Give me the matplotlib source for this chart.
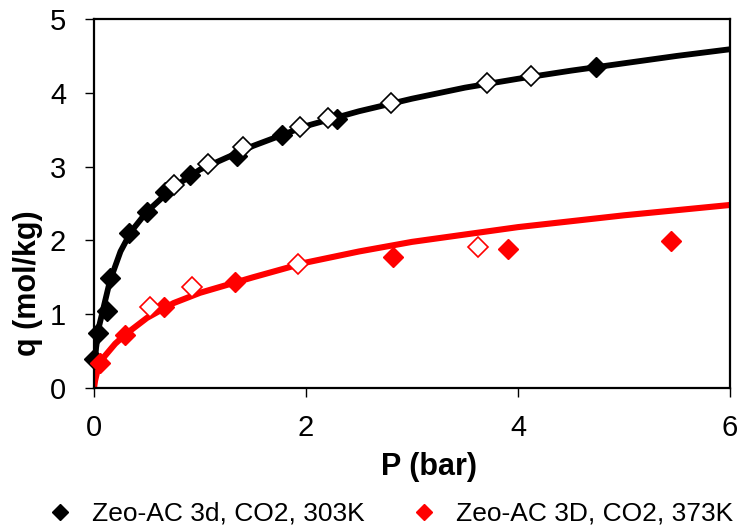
import numpy as np
import matplotlib
matplotlib.use("Agg")
import matplotlib.pyplot as plt
from matplotlib.lines import Line2D

plt.rcParams['font.family'] = ['Liberation Sans', 'DejaVu Sans']

# 303K - adsorption (filled) and desorption (open)
p_303_ads = [0.0, 0.04, 0.12, 0.15, 0.33, 0.50, 0.67, 0.91, 1.35, 1.77, 2.29, 4.74]
q_303_ads = [0.39, 0.75, 1.05, 1.49, 2.10, 2.39, 2.66, 2.88, 3.15, 3.43, 3.64, 4.35]
p_303_des = [0.75, 1.08, 1.41, 1.94, 2.21, 2.80, 3.71, 4.12]
q_303_des = [2.75, 3.04, 3.27, 3.54, 3.66, 3.86, 4.13, 4.23]

# 373K
p_373_ads = [0.06, 0.29, 0.66, 1.33, 2.82, 3.91, 5.44]
q_373_ads = [0.34, 0.72, 1.10, 1.44, 1.77, 1.88, 1.99]
p_373_des = [0.53, 0.92, 1.92, 3.62]
q_373_des = [1.10, 1.37, 1.68, 1.91]

# fitted curves
p_fit_303 = [0.0, 0.005, 0.02, 0.05, 0.10, 0.15, 0.25, 0.35, 0.50, 0.75, 1.0, 1.5, 2.0, 2.5, 3.0, 3.5, 4.0, 4.5, 5.0, 5.5, 6.0]
q_fit_303 = [0.0, 0.30, 0.55, 0.85, 1.15, 1.45, 1.85, 2.12, 2.39, 2.72, 2.96, 3.28, 3.55, 3.75, 3.92, 4.07, 4.19, 4.30, 4.40, 4.50, 4.59]
p_fit_373 = [0.0, 0.01, 0.03, 0.06, 0.10, 0.20, 0.30, 0.50, 0.75, 1.0, 1.5, 2.0, 2.5, 3.0, 3.5, 4.0, 4.5, 5.0, 5.5, 6.0]
q_fit_373 = [0.0, 0.10, 0.22, 0.33, 0.43, 0.60, 0.73, 0.95, 1.15, 1.29, 1.50, 1.70, 1.85, 1.98, 2.08, 2.18, 2.26, 2.34, 2.41, 2.48]

fig = plt.figure(figsize=(7.41, 5.29), dpi=100)
ax = fig.add_axes([94/741, 1-388/529, 636/741, 369/529])

ax.plot(p_fit_303, q_fit_303, color='black', lw=4.2, zorder=2, solid_capstyle='butt')
ax.plot(p_fit_373, q_fit_373, color='red', lw=4.4, zorder=2, solid_capstyle='butt')

ms = 10.5
ax.plot(p_303_ads, q_303_ads, 'D', color='black', ms=ms, zorder=3, clip_on=False)
ax.plot(p_303_des, q_303_des, 'D', mfc='white', mec='black', mew=1.2, ms=ms, zorder=4, clip_on=False)
ax.plot(p_373_ads, q_373_ads, 'D', color='red', ms=ms, zorder=3, clip_on=False)
ax.plot(p_373_des, q_373_des, 'D', mfc='white', mec='red', mew=1.2, ms=ms, zorder=4, clip_on=False)

ax.set_xlim(0, 6)
ax.set_ylim(0, 5)
ax.set_xticks([0, 2, 4, 6])
ax.set_yticks([0, 1, 2, 3, 4, 5])
ax.tick_params(direction='out', length=6.5, width=1, labelsize=21)
ax.tick_params(axis='x', pad=12)
ax.tick_params(axis='y', pad=13.5)
for s in ax.spines.values():
    s.set_linewidth(1.6)

fig.text(429/741, 1-467/529, 'P (bar)', fontsize=22, fontweight='bold', ha='center', va='center')
fig.text(28/741, 1-283/529, 'q (mol/kg)', fontsize=22, fontweight='bold', rotation=90, ha='center', va='center')

handles = [Line2D([], [], ls='none', marker='D', color='black', ms=8.5),
           Line2D([], [], ls='none', marker='D', color='red', ms=8.5)]
fig.legend(handles, ['Zeo-AC 3d, CO2, 303K', 'Zeo-AC 3D, CO2, 373K'],
           loc='center left', bbox_to_anchor=(46.8/741, 1-514/529), ncol=2,
           frameon=False, fontsize=19, handlelength=1.0, handletextpad=0.71,
           columnspacing=1.77, borderpad=0, borderaxespad=0)

fig.savefig('out.png', dpi=100)
